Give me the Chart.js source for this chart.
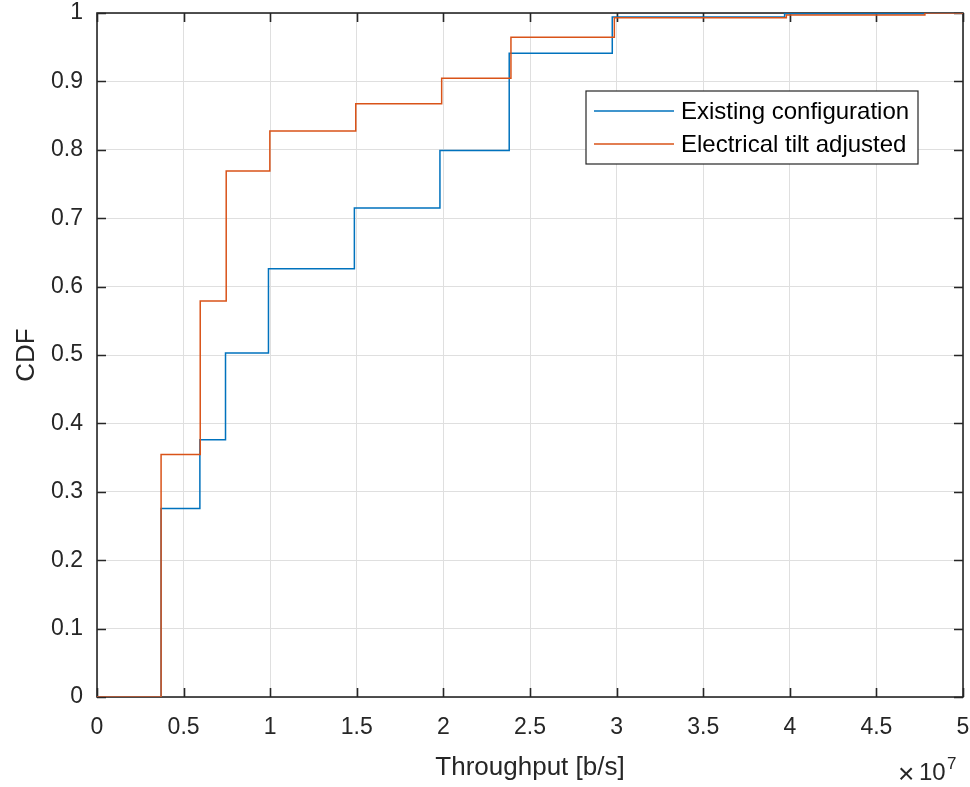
<!DOCTYPE html>
<html>
<head>
<meta charset="utf-8">
<title>Throughput CDF</title>
<script src="https://cdn.jsdelivr.net/npm/chart.js@4.4.1/dist/chart.umd.min.js"></script>
<style>
    html, body { margin: 0; padding: 0; background: #ffffff; }
    #cdfChart { display: block; }
</style>
</head>
<body>
<canvas id="cdfChart" width="970" height="787"></canvas>
<script>
// Empirical CDF steps, throughput in b/s
const existingX = [0, 3.7e6, 5.94e6, 7.42e6, 9.9e6, 14.86e6, 19.8e6, 23.8e6, 29.75e6, 39.7e6, 47.7e6, 50e6];
const existingCdf = [0, 0.2755, 0.376, 0.503, 0.626, 0.715, 0.799, 0.941, 0.994, 0.999, 1.0, 1.0];
const tiltX = [0, 3.7e6, 5.96e6, 7.46e6, 9.98e6, 14.94e6, 19.9e6, 23.9e6, 29.87e6, 39.8e6, 47.8e6, 50e6];
const tiltCdf = [0, 0.3546, 0.579, 0.769, 0.8275, 0.8675, 0.9046, 0.9646, 0.993, 0.997, 1.0, 1.0];

const seriesLabels = ['Existing configuration', 'Electrical tilt adjusted'];
const seriesColors = ['#0072BD', '#D95319'];

const xTickLabels = ['0', '0.5', '1', '1.5', '2', '2.5', '3', '3.5', '4', '4.5', '5'];
const yTickLabels = ['0', '0.1', '0.2', '0.3', '0.4', '0.5', '0.6', '0.7', '0.8', '0.9', '1'];

const FONT = "'Liberation Sans', Arial, Helvetica, sans-serif";
const AXIS_COLOR = '#262626';
const GRID_COLOR = '#dfdfdf';

function toPoints(xs, ys) {
    return xs.map((x, i) => ({ x: x, y: ys[i] }));
}

// keep the plot box fixed: no extra room for overhanging tick labels
function fixScale(scale, size) {
    if (scale.isHorizontal()) {
        scale.height = size;
    } else {
        scale.width = size;
    }
    scale.paddingLeft = 0;
    scale.paddingRight = 0;
    scale.paddingTop = 0;
    scale.paddingBottom = 0;
}

// axes box with inward tick marks on all four sides
const boxPlugin = {
    id: 'matlabBox',
    beforeDatasetsDraw(chart) {
        const { ctx, chartArea: a, scales } = chart;
        const len = 9;
        ctx.save();
        ctx.strokeStyle = AXIS_COLOR;
        ctx.lineWidth = 1.6;
        ctx.beginPath();
        scales.x.ticks.forEach(t => {
            const px = Math.round(scales.x.getPixelForValue(t.value)) + 0.5;
            ctx.moveTo(px, a.bottom); ctx.lineTo(px, a.bottom - len);
            ctx.moveTo(px, a.top); ctx.lineTo(px, a.top + len);
        });
        scales.y.ticks.forEach(t => {
            const py = Math.round(scales.y.getPixelForValue(t.value)) + 0.5;
            ctx.moveTo(a.left, py); ctx.lineTo(a.left + len, py);
            ctx.moveTo(a.right, py); ctx.lineTo(a.right - len, py);
        });
        ctx.stroke();
        ctx.strokeRect(a.left, a.top, a.right - a.left, a.bottom - a.top);
        ctx.restore();
    }
};

// boxed legend inside the plot, plus the x10^7 exponent under the x axis
const legendPlugin = {
    id: 'boxLegend',
    afterDraw(chart) {
        const { ctx } = chart;
        ctx.save();
        ctx.fillStyle = '#ffffff';
        ctx.fillRect(586, 91, 332, 73);
        ctx.strokeStyle = AXIS_COLOR;
        ctx.lineWidth = 1.2;
        ctx.strokeRect(586, 91, 332, 73);

        const rows = [111, 144];
        ctx.font = '24px ' + FONT;
        ctx.textBaseline = 'middle';
        ctx.textAlign = 'left';
        chart.data.datasets.forEach((ds, i) => {
            ctx.strokeStyle = ds.borderColor;
            ctx.lineWidth = 1.5;
            ctx.beginPath();
            ctx.moveTo(594, rows[i]);
            ctx.lineTo(674, rows[i]);
            ctx.stroke();
            ctx.fillStyle = '#000000';
            ctx.fillText(ds.label, 681, rows[i] + 1);
        });

        ctx.fillStyle = AXIS_COLOR;
        ctx.font = '28px ' + FONT;
        ctx.fillText('\u00d7', 898, 775);
        ctx.textBaseline = 'alphabetic';
        ctx.font = '24px ' + FONT;
        ctx.fillText('10', 919, 780);
        ctx.font = '17px ' + FONT;
        ctx.fillText('7', 947, 769);
        ctx.restore();
    }
};

const ctx = document.getElementById('cdfChart').getContext('2d');

const cdfChart = new Chart(ctx, {
    type: 'line',
    data: {
        datasets: [
            {
                label: seriesLabels[0],
                data: toPoints(existingX, existingCdf),
                borderColor: seriesColors[0],
                borderWidth: 1.5,
                stepped: 'before',
                pointRadius: 0,
                fill: false,
                order: 1
            },
            {
                label: seriesLabels[1],
                data: toPoints(tiltX, tiltCdf),
                borderColor: seriesColors[1],
                borderWidth: 1.5,
                stepped: 'before',
                pointRadius: 0,
                fill: false,
                order: 0
            }
        ]
    },
    options: {
        responsive: false,
        animation: false,
        events: [],
        layout: { padding: { top: 13, right: 7, left: 0, bottom: 0 } },
        plugins: {
            legend: { display: false },
            tooltip: { enabled: false }
        },
        scales: {
            x: {
                type: 'linear',
                min: 0,
                max: 5e7,
                afterFit: scale => fixScale(scale, 90),
                ticks: {
                    stepSize: 5e6,
                    padding: 17,
                    maxRotation: 0,
                    color: AXIS_COLOR,
                    font: { family: FONT, size: 23 },
                    callback: (value, index) => xTickLabels[index]
                },
                grid: { color: GRID_COLOR, lineWidth: 1, drawTicks: false },
                border: { display: false },
                title: {
                    display: true,
                    text: 'Throughput [b/s]',
                    color: AXIS_COLOR,
                    font: { family: FONT, size: 26 },
                    padding: { top: 0, bottom: 4 }
                }
            },
            y: {
                type: 'linear',
                min: 0,
                max: 1,
                afterFit: scale => fixScale(scale, 97),
                ticks: {
                    stepSize: 0.1,
                    padding: 14,
                    color: AXIS_COLOR,
                    font: { family: FONT, size: 23 },
                    callback: (value, index) => yTickLabels[index]
                },
                grid: { color: GRID_COLOR, lineWidth: 1, drawTicks: false },
                border: { display: false },
                title: {
                    display: true,
                    text: 'CDF',
                    color: AXIS_COLOR,
                    font: { family: FONT, size: 26 },
                    padding: { top: 11, bottom: 0 }
                }
            }
        }
    },
    plugins: [boxPlugin, legendPlugin]
});
</script>
</body>
</html>
